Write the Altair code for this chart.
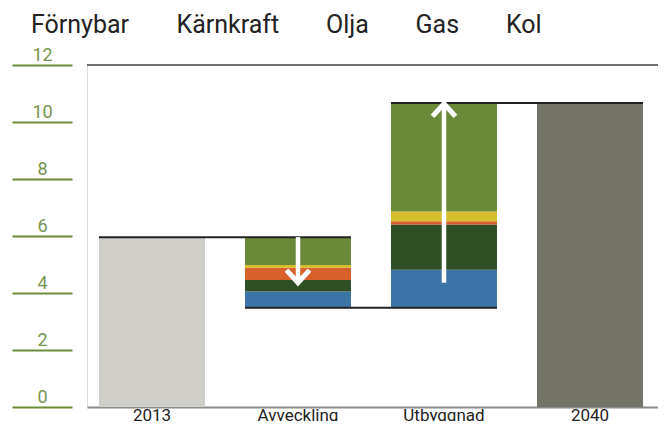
import altair as alt
import pandas as pd

categories = ["2013", "Avveckling", "Utbyggnad", "2040"]
series = ["Förnybar", "Kärnkraft", "Olja", "Gas", "Kol"]
series_colors = ["#6a8a3a", "#d6bd2b", "#d8602a", "#2f4f25", "#3d74a8"]

start_2013 = 5.96
avveckling = [0.98, 0.09, 0.43, 0.41, 0.57]   # per series, removed
utbyggnad = [3.81, 0.34, 0.12, 1.58, 1.34]    # per series, added

arrow_cats = ["Avveckling", "Utbyggnad"]
arrow_from = [5.96, 4.36]
arrow_to = [4.36, 10.64]
arrow_dir = ["down", "up"]

y_ticks = [0, 2, 4, 6, 8, 10, 12]
FONT = "Roboto"
GREEN = "#6b8c3a"

# ---- derived tables ----
low = start_2013 - sum(avveckling)
total_2040 = low + sum(utbyggnad)

seg_rows = []
for cat, vals in (("Avveckling", avveckling), ("Utbyggnad", utbyggnad)):
    base = low
    for i in range(len(series) - 1, -1, -1):
        seg_rows.append({"cat": cat, "series": series[i], "y0": base, "y1": base + vals[i]})
        base += vals[i]
segs = pd.DataFrame(seg_rows)

totals = pd.DataFrame({
    "cat": ["2013", "2040"],
    "y0": [0, 0],
    "y1": [start_2013, total_2040],
    "color": ["#cfcec9", "#737366"],
})

connectors = pd.DataFrame({
    "a": ["2013", "Avveckling", "Utbyggnad"],
    "b": ["Avveckling", "Utbyggnad", "2040"],
    "y": [start_2013, low, total_2040],
})

arrows = pd.DataFrame({"cat": arrow_cats, "from": arrow_from, "to": arrow_to, "dir": arrow_dir})
topline = pd.DataFrame({"y": [12]})

xscale = alt.Scale(domain=categories, paddingInner=0.274, paddingOuter=0.0925, align=0.444)
yscale = alt.Scale(domain=[0, 12], nice=False)

x_axis = alt.Axis(title=None, ticks=False, labelAngle=0, labelFontSize=17, labelFont=FONT,
                  labelColor="#222222", labelBaseline="alphabetic", labelPadding=13.5,
                  domainColor="#8a8a8a", domainWidth=2)
y_axis = alt.Axis(title=None, values=y_ticks, domain=False, grid=False, tickSize=60, tickWidth=2,
                  tickColor=GREEN, offset=15, labelAlign="center", labelPadding=-30,
                  labelBaseline="alphabetic", labelOffset=-5, labelFontSize=18, labelFont=FONT,
                  labelColor="#76944f")

total_layer = alt.Chart(totals).mark_bar().encode(
    x=alt.X("cat:N", scale=xscale, axis=x_axis, sort=categories),
    y=alt.Y("y0:Q", scale=yscale, axis=y_axis),
    y2="y1:Q",
    color=alt.Color("color:N", scale=None),
)

seg_layer = alt.Chart(segs).mark_bar().encode(
    x=alt.X("cat:N", scale=xscale, sort=categories),
    y=alt.Y("y0:Q", scale=yscale),
    y2="y1:Q",
    color=alt.Color("series:N", scale=alt.Scale(domain=series, range=series_colors),
                    legend=alt.Legend(orient="none", legendX=-81, legendY=-53, direction="horizontal",
                                      columns=5, title=None, symbolSize=0, symbolStrokeWidth=0,
                                      symbolOpacity=0, labelOffset=0, columnPadding=21.5, padding=0,
                                      labelFontSize=25, labelFont=FONT, labelColor="#222222")),
)

top_rule = alt.Chart(topline).mark_rule(color="#6e6e6e", strokeWidth=2).encode(
    y=alt.Y("y:Q", scale=yscale)
)

conn_layer = alt.Chart(connectors).mark_rule(color="#222222", strokeWidth=2).encode(
    x=alt.X("a:N", scale=xscale, bandPosition=0),
    x2=alt.X2("b:N", bandPosition=1),
    y=alt.Y("y:Q", scale=yscale),
)

shaft_layer = alt.Chart(arrows).mark_rule(color="white", strokeWidth=4.5).encode(
    x=alt.X("cat:N", scale=xscale),
    y=alt.Y("from:Q", scale=yscale),
    y2="to:Q",
)

head_layer = alt.Chart(arrows).mark_point(filled=False, stroke="white", strokeWidth=5, size=529,
                                          opacity=1, strokeCap="butt").encode(
    x=alt.X("cat:N", scale=xscale),
    y=alt.Y("to:Q", scale=yscale),
    shape=alt.Shape("dir:N", scale=alt.Scale(domain=["down", "up"],
                                             range=["M-1,-1.1L0,0L1,-1.1", "M-1,1.1L0,0L1,1.1"]),
                    legend=None),
)

chart = alt.layer(total_layer, seg_layer, top_rule, conn_layer, shaft_layer, head_layer).properties(
    width=571, height=342,
    autosize=alt.AutoSizeParams(type="none"),
    padding={"left": 79, "top": 57, "right": 0, "bottom": 14},
).configure_view(stroke=None).configure(font=FONT)

chart.save("out.html", embed_options={"renderer": "svg", "actions": False})
